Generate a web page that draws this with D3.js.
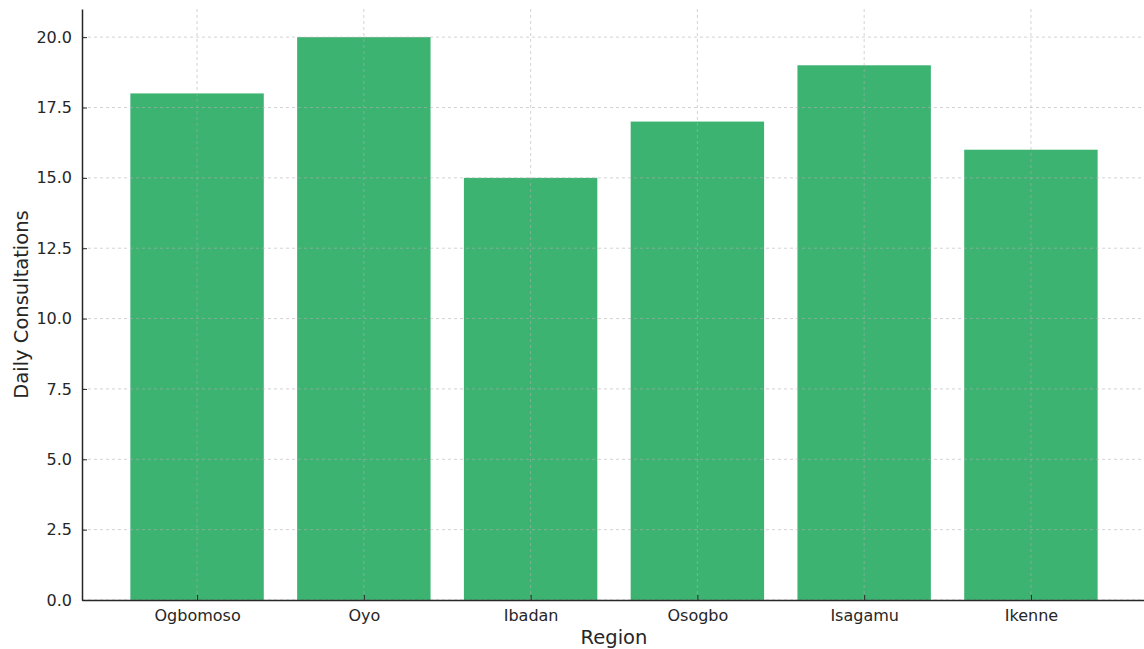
<!DOCTYPE html>
<html><head><meta charset="utf-8">
<script src="https://cdn.jsdelivr.net/npm/d3@7"></script>
<style>body{margin:0;background:#fff;}svg{display:block;font-family:"DejaVu Sans",sans-serif;}</style>
</head><body>
<svg id="c" width="1144" height="649"></svg>
<script>
const regions = ["Ogbomoso","Oyo","Ibadan","Osogbo","Isagamu","Ikenne"];
const consultations = [18,20,15,17,19,16];
const yTicks = [0,2.5,5,7.5,10,12.5,15,17.5,20];

(function(){
const svg = d3.select("#c");
const mL = 82, mR = 1146, mT = 9, mB = 600;
const n = regions.length;
const x = d3.scaleLinear().domain([-0.69, n - 1 + 0.69]).range([mL, mR]);
const y = d3.scaleLinear().domain([0, 21]).range([mB, mT]);
const bw = 0.8;

// bars
svg.append("g").selectAll("rect").data(consultations).join("rect")
  .attr("x", (d,i) => x(i - bw/2)).attr("width", (d,i) => x(i + bw/2) - x(i - bw/2))
  .attr("y", d => y(d)).attr("height", d => y(0) - y(d))
  .attr("fill", "#3cb371");

// grid
const grid = svg.append("g").attr("stroke", "#b0b0b0").attr("stroke-opacity", 0.7)
  .attr("stroke-width", 0.8).attr("stroke-dasharray", "3,3");
grid.selectAll("line.h").data(yTicks).join("line").attr("class","h")
  .attr("x1", mL).attr("x2", mR).attr("y1", d => y(d)).attr("y2", d => y(d));
grid.selectAll("line.v").data(regions).join("line").attr("class","v")
  .attr("x1", (d,i) => x(i)).attr("x2", (d,i) => x(i)).attr("y1", mT).attr("y2", mB);

// axes
const xAxis = d3.axisBottom(x).tickValues(d3.range(n)).tickFormat(i => regions[i])
  .tickSizeInner(-5).tickSizeOuter(0).tickPadding(10);
const gx = svg.append("g").attr("transform", `translate(0,${mB})`).call(xAxis);
const yAxis = d3.axisLeft(y).tickValues(yTicks).tickFormat(d3.format(".1f"))
  .tickSizeInner(-5).tickSizeOuter(0).tickPadding(10);
const gy = svg.append("g").attr("transform", `translate(${mL},0)`).call(yAxis);
[gx, gy].forEach(g => {
  g.selectAll("text").attr("font-size", 16).attr("fill", "#262626").attr("font-family", '"DejaVu Sans",sans-serif');
  g.selectAll("line").attr("stroke", "#262626").attr("stroke-width", 1);
  g.select(".domain").attr("stroke", "#262626").attr("stroke-width", 1.5);
});

svg.append("text").attr("x", (mL + mR) / 2).attr("y", 644)
  .attr("text-anchor", "middle").attr("font-size", 19.5).attr("fill", "#262626").text("Region");
svg.append("text").attr("transform", `translate(28,${(mT + mB) / 2}) rotate(-90)`)
  .attr("text-anchor", "middle").attr("font-size", 19.5).attr("fill", "#262626").text("Daily Consultations");
})();
</script>
</body></html>
